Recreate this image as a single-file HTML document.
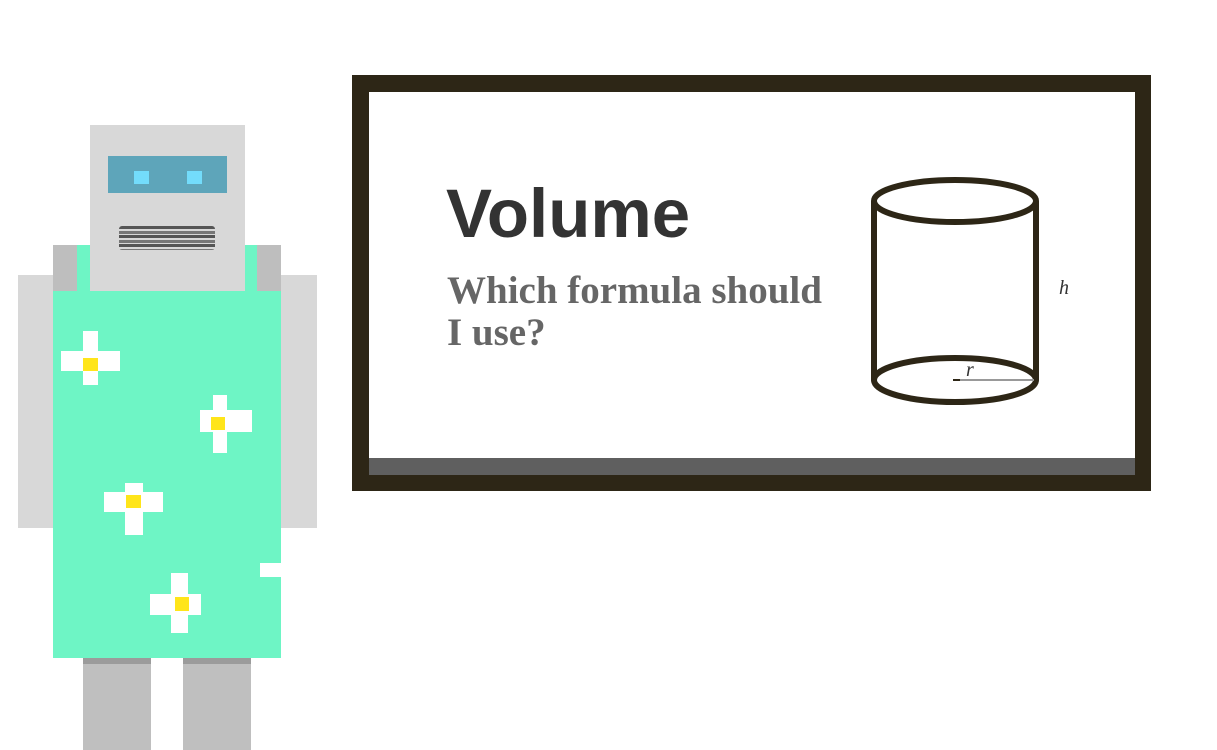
<!DOCTYPE html>
<html><head><meta charset="utf-8"><style>
body{margin:0;width:1217px;height:750px;background:#fff;position:relative;overflow:hidden;font-family:"Liberation Sans",sans-serif}
.a{position:absolute}
</style></head><body>
<div class="a" style="left:0;top:0;width:330px;height:750px">
 <div class="a" style="left:18px;top:275px;width:36px;height:253px;background:#d8d8d8"></div>
 <div class="a" style="left:280px;top:275px;width:37px;height:253px;background:#d8d8d8"></div>
 <div class="a" style="left:53px;top:245px;width:24px;height:46px;background:#bebebe"></div>
 <div class="a" style="left:257px;top:245px;width:24px;height:46px;background:#bebebe"></div>
 <div class="a" style="left:83px;top:658px;width:68px;height:92px;background:#bfbfbf;border-top:6px solid #9b9b9b;box-sizing:border-box"></div>
 <div class="a" style="left:183px;top:658px;width:68px;height:92px;background:#bfbfbf;border-top:6px solid #9b9b9b;box-sizing:border-box"></div>
 <div class="a" style="left:53px;top:291px;width:228px;height:367px;background:#6ef5c5"></div>
 <div class="a" style="left:77px;top:245px;width:14px;height:46px;background:#6ef5c5"></div>
 <div class="a" style="left:243px;top:245px;width:14px;height:46px;background:#6ef5c5"></div>
 <div class="a" style="left:90px;top:125px;width:155px;height:166px;background:#d8d8d8"></div>
 <div class="a" style="left:108px;top:156px;width:119px;height:37px;background:#5ea5ba"></div>
 <div class="a" style="left:134px;top:171px;width:15px;height:13px;background:#73dcfb"></div>
 <div class="a" style="left:187px;top:171px;width:15px;height:13px;background:#73dcfb"></div>
 <div class="a" style="left:119px;top:226px;width:96px;height:24px;background:repeating-linear-gradient(#555 0 3px,#d8d8d8 3px 5px,#777 5px 8px,#d8d8d8 8px 9px);border-radius:3px"></div>
 <div class="a" style="left:0;top:0">
  <div class="a" style="left:83px;top:331px;width:15px;height:54px;background:#fff"></div>
  <div class="a" style="left:61px;top:351px;width:59px;height:20px;background:#fff"></div>
  <div class="a" style="left:83px;top:358px;width:15px;height:13px;background:#ffe51a"></div>
 </div>
 <div class="a" style="left:0;top:0">
  <div class="a" style="left:213px;top:395px;width:14px;height:58px;background:#fff"></div>
  <div class="a" style="left:200px;top:410px;width:52px;height:22px;background:#fff"></div>
  <div class="a" style="left:211px;top:417px;width:14px;height:13px;background:#ffe51a"></div>
 </div>
 <div class="a" style="left:0;top:0">
  <div class="a" style="left:125px;top:483px;width:18px;height:52px;background:#fff"></div>
  <div class="a" style="left:104px;top:492px;width:59px;height:20px;background:#fff"></div>
  <div class="a" style="left:126px;top:495px;width:15px;height:13px;background:#ffe51a"></div>
 </div>
 <div class="a" style="left:0;top:0">
  <div class="a" style="left:171px;top:573px;width:17px;height:60px;background:#fff"></div>
  <div class="a" style="left:150px;top:594px;width:51px;height:21px;background:#fff"></div>
  <div class="a" style="left:175px;top:597px;width:14px;height:14px;background:#ffe51a"></div>
 </div>
 <div class="a" style="left:260px;top:563px;width:21px;height:14px;background:#fff"></div>
</div>
<div class="a" style="left:352px;top:75px;width:799px;height:416px;background:#2d2616">
 <div class="a" style="left:17px;top:17px;width:766px;height:366px;background:#fff"></div>
 <div class="a" style="left:17px;top:383px;width:766px;height:17px;background:#5f5f5f"></div>
</div>
<div class="a" style="left:446px;top:174px;font-size:69px;font-weight:bold;color:#333;line-height:80px">Volume</div>
<div class="a" style="left:447px;top:270px;width:390px;font-family:'Liberation Serif',serif;font-size:39px;font-weight:bold;color:#666;line-height:42px">Which formula should<br>I use?</div>
<svg class="a" style="left:0;top:0" width="1217" height="750">
 <g fill="none" stroke="#2d2616" stroke-width="6">
  <ellipse cx="955" cy="201" rx="81" ry="21"/>
  <ellipse cx="955" cy="380" rx="81" ry="22"/>
  <line x1="874" y1="201" x2="874" y2="380"/>
  <line x1="1036" y1="201" x2="1036" y2="380"/>
 </g>
 <line x1="953" y1="380" x2="1034" y2="380" stroke="#999" stroke-width="2"/>
 <line x1="953" y1="380" x2="960" y2="380" stroke="#2d2616" stroke-width="2"/>
 <text x="966" y="376" font-family="Liberation Serif,serif" font-style="italic" font-size="20" fill="#333">r</text>
 <text x="1059" y="294" font-family="Liberation Serif,serif" font-style="italic" font-size="20" fill="#333">h</text>
</svg>
</body></html>
